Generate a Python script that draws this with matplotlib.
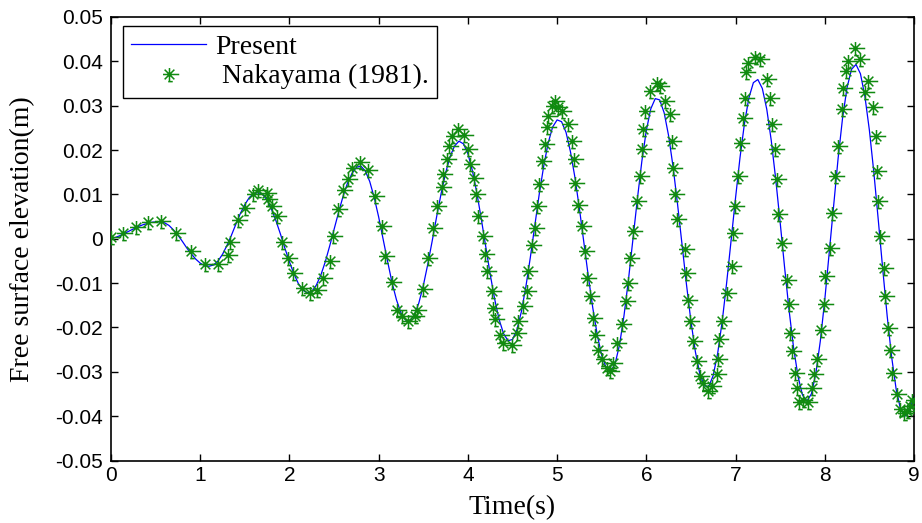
import matplotlib
matplotlib.use("Agg")
import matplotlib.pyplot as plt
from matplotlib.path import Path

# ---- data ----
# numerical solution (blue line), sampled every 0.05 s
line_t = [
    0.00, 0.05, 0.10, 0.15, 0.20, 0.25, 0.30, 0.35, 0.40, 0.45,
    0.50, 0.55, 0.60, 0.65, 0.70, 0.75, 0.80, 0.85, 0.90, 0.95,
    1.00, 1.05, 1.10, 1.15, 1.20, 1.25, 1.30, 1.35, 1.40, 1.45,
    1.50, 1.55, 1.60, 1.65, 1.70, 1.75, 1.80, 1.85, 1.90, 1.95,
    2.00, 2.05, 2.10, 2.15, 2.20, 2.25, 2.30, 2.35, 2.40, 2.45,
    2.50, 2.55, 2.60, 2.65, 2.70, 2.75, 2.80, 2.85, 2.90, 2.95,
    3.00, 3.05, 3.10, 3.15, 3.20, 3.25, 3.30, 3.35, 3.40, 3.45,
    3.50, 3.55, 3.60, 3.65, 3.70, 3.75, 3.80, 3.85, 3.90, 3.95,
    4.00, 4.05, 4.10, 4.15, 4.20, 4.25, 4.30, 4.35, 4.40, 4.45,
    4.50, 4.55, 4.60, 4.65, 4.70, 4.75, 4.80, 4.85, 4.90, 4.95,
    5.00, 5.05, 5.10, 5.15, 5.20, 5.25, 5.30, 5.35, 5.40, 5.45,
    5.50, 5.55, 5.60, 5.65, 5.70, 5.75, 5.80, 5.85, 5.90, 5.95,
    6.00, 6.05, 6.10, 6.15, 6.20, 6.25, 6.30, 6.35, 6.40, 6.45,
    6.50, 6.55, 6.60, 6.65, 6.70, 6.75, 6.80, 6.85, 6.90, 6.95,
    7.00, 7.05, 7.10, 7.15, 7.20, 7.25, 7.30, 7.35, 7.40, 7.45,
    7.50, 7.55, 7.60, 7.65, 7.70, 7.75, 7.80, 7.85, 7.90, 7.95,
    8.00, 8.05, 8.10, 8.15, 8.20, 8.25, 8.30, 8.35, 8.40, 8.45,
    8.50, 8.55, 8.60, 8.65, 8.70, 8.75, 8.80, 8.85, 8.90, 8.95,
    9.00,
]
line_y = [
    0.0000, 0.0003, 0.0007, 0.0012, 0.0017, 0.0022, 0.0027, 0.0031, 0.0034, 0.0037,
    0.0038, 0.0038, 0.0036, 0.0030, 0.0020, 0.0008, -0.0006, -0.0021, -0.0034, -0.0046,
    -0.0055, -0.0061, -0.0062, -0.0059, -0.0050, -0.0035, -0.0015, 0.0008, 0.0033, 0.0057,
    0.0077, 0.0093, 0.0102, 0.0104, 0.0100, 0.0087, 0.0066, 0.0040, 0.0010, -0.0022,
    -0.0052, -0.0079, -0.0101, -0.0116, -0.0122, -0.0119, -0.0105, -0.0083, -0.0053, -0.0017,
    0.0021, 0.0059, 0.0095, 0.0125, 0.0147, 0.0161, 0.0164, 0.0153, 0.0129, 0.0093,
    0.0049, -0.0001, -0.0051, -0.0099, -0.0138, -0.0167, -0.0183, -0.0185, -0.0172, -0.0145,
    -0.0106, -0.0058, -0.0005, 0.0050, 0.0102, 0.0148, 0.0185, 0.0209, 0.0220, 0.0214,
    0.0192, 0.0154, 0.0104, 0.0045, -0.0018, -0.0080, -0.0136, -0.0182, -0.0214, -0.0230,
    -0.0227, -0.0205, -0.0164, -0.0108, -0.0042, 0.0030, 0.0101, 0.0164, 0.0216, 0.0252,
    0.0268, 0.0264, 0.0240, 0.0196, 0.0138, 0.0068, -0.0008, -0.0085, -0.0156, -0.0217,
    -0.0263, -0.0291, -0.0299, -0.0282, -0.0239, -0.0173, -0.0092, -0.0001, 0.0090, 0.0175,
    0.0244, 0.0293, 0.0316, 0.0313, 0.0284, 0.0232, 0.0162, 0.0078, -0.0012, -0.0103,
    -0.0186, -0.0255, -0.0305, -0.0332, -0.0333, -0.0308, -0.0258, -0.0187, -0.0100, -0.0004,
    0.0092, 0.0183, 0.0260, 0.0318, 0.0352, 0.0359, 0.0339, 0.0292, 0.0222, 0.0135,
    0.0037, -0.0065, -0.0161, -0.0245, -0.0310, -0.0352, -0.0366, -0.0350, -0.0304, -0.0231,
    -0.0138, -0.0031, 0.0078, 0.0182, 0.0273, 0.0341, 0.0382, 0.0393, 0.0372, 0.0321,
    0.0245, 0.0150, 0.0042, -0.0069, -0.0175, -0.0267, -0.0339, -0.0385, -0.0400, -0.0388,
    -0.0355,
]

# Nakayama (1981) points (green stars)
naka_t = [
    0.00, 0.138, 0.28, 0.418, 0.56, 0.729, 0.897, 1.054, 1.203, 1.308,
    1.334, 1.428, 1.502, 1.595, 1.651, 1.745, 1.764, 1.80, 1.857, 1.92,
    1.988, 2.044, 2.138, 2.231, 2.306, 2.381, 2.455, 2.492, 2.548, 2.604,
    2.66, 2.698, 2.791, 2.885, 2.96, 3.035, 3.072, 3.147, 3.203, 3.259,
    3.333, 3.408, 3.427, 3.50, 3.557, 3.613, 3.651, 3.707, 3.726, 3.77,
    3.79, 3.82, 3.893, 3.96, 4.006, 4.025, 4.07, 4.09, 4.11, 4.17,
    4.193, 4.212, 4.268, 4.286, 4.305, 4.361, 4.398, 4.492, 4.548, 4.567,
    4.623, 4.66, 4.679, 4.716, 4.754, 4.78, 4.80, 4.83, 4.866, 4.885,
    4.903, 4.94, 4.978, 5.015, 5.052, 5.127, 5.165, 5.184, 5.202, 5.239,
    5.28, 5.31, 5.333, 5.37, 5.40, 5.43, 5.455, 5.501, 5.557, 5.594,
    5.632, 5.669, 5.725, 5.77, 5.80, 5.819, 5.856, 5.893, 5.93, 5.949,
    5.968, 5.987, 6.043, 6.118, 6.155, 6.211, 6.267, 6.286, 6.30, 6.323,
    6.342, 6.435, 6.45, 6.472, 6.491, 6.528, 6.566, 6.603, 6.64, 6.696,
    6.734, 6.79, 6.80, 6.82, 6.846, 6.903, 6.958, 6.977, 6.996, 7.032,
    7.05, 7.089, 7.107, 7.12, 7.145, 7.22, 7.276, 7.351, 7.388, 7.407,
    7.444, 7.463, 7.481, 7.519, 7.575, 7.594, 7.613, 7.631, 7.668, 7.687,
    7.706, 7.76, 7.817, 7.855, 7.874, 7.911, 7.96, 7.99, 8.004, 8.06,
    8.08, 8.117, 8.154, 8.191, 8.21, 8.24, 8.26, 8.341, 8.397, 8.453,
    8.49, 8.546, 8.57, 8.585, 8.60, 8.621, 8.66, 8.68, 8.71, 8.733,
    8.752, 8.808, 8.845, 8.883, 8.92, 8.957, 8.976,
]
naka_y = [
    0.0005, 0.0013, 0.0027, 0.0038, 0.0040, 0.0012, -0.0028, -0.0056, -0.0056, -0.0036,
    -0.0008, 0.0043, 0.0070, 0.0100, 0.0109, 0.0104, 0.0089, 0.0074, 0.0051, -0.0008,
    -0.0043, -0.0078, -0.0111, -0.0123, -0.0116, -0.0088, -0.0051, 0.0006, 0.0066, 0.0111,
    0.0135, 0.0160, 0.0173, 0.0156, 0.0096, 0.0028, -0.0039, -0.0097, -0.0161, -0.0175,
    -0.0186, -0.0175, -0.0160, -0.0114, -0.0043, 0.0025, 0.0074, 0.0117, 0.0145, 0.0179,
    0.0209, 0.0232, 0.0248, 0.0235, 0.0202, 0.0168, 0.0137, 0.0100, 0.0051, 0.0006,
    -0.0035, -0.0073, -0.0118, -0.0156, -0.0182, -0.0216, -0.0235, -0.0239, -0.0212, -0.0186,
    -0.0152, -0.0118, -0.0073, -0.0013, 0.0025, 0.0074, 0.0123, 0.0175, 0.0213, 0.0251,
    0.0277, 0.0299, 0.0311, 0.0296, 0.0288, 0.0258, 0.0220, 0.0179, 0.0126, 0.0077,
    0.0028, -0.0028, -0.0088, -0.0130, -0.0178, -0.0216, -0.0250, -0.0272, -0.0291, -0.0299,
    -0.0280, -0.0235, -0.0193, -0.0141, -0.0099, -0.0043, 0.0017, 0.0085, 0.0141, 0.0202,
    0.0247, 0.0288, 0.0333, 0.0352, 0.0344, 0.0311, 0.0281, 0.0220, 0.0160, 0.0100,
    0.0044, -0.0024, -0.0077, -0.0137, -0.0186, -0.0231, -0.0276, -0.0310, -0.0325, -0.0344,
    -0.0333, -0.0306, -0.0272, -0.0227, -0.0186, -0.0122, -0.0062, 0.0014, 0.0074, 0.0141,
    0.0217, 0.0273, 0.0318, 0.0375, 0.0397, 0.0409, 0.0405, 0.0360, 0.0318, 0.0258,
    0.0202, 0.0134, 0.0055, -0.0009, -0.0092, -0.0148, -0.0212, -0.0254, -0.0302, -0.0336,
    -0.0367, -0.0363, -0.0367, -0.0336, -0.0306, -0.0272, -0.0205, -0.0148, -0.0084, -0.0020,
    0.0059, 0.0141, 0.0209, 0.0292, 0.0341, 0.0378, 0.0401, 0.0431, 0.0405, 0.0330,
    0.0356, 0.0296, 0.0232, 0.0153, 0.0085, 0.0006, -0.0065, -0.0130, -0.0201, -0.0250,
    -0.0302, -0.0351, -0.0385, -0.0393, -0.0388, -0.0378, -0.0363,
]

x_ticks = [0, 1, 2, 3, 4, 5, 6, 7, 8, 9]
y_ticks = [-0.05, -0.04, -0.03, -0.02, -0.01, 0, 0.01, 0.02, 0.03, 0.04, 0.05]
y_tick_labels = ["-0.05", "-0.04", "-0.03", "-0.02", "-0.01", "0",
                 "0.01", "0.02", "0.03", "0.04", "0.05"]

# asterisk-like marker, close to the MATLAB '*' look in the picture
star_verts = [(0, -1), (0, 1),
              (-0.75, -0.75), (0.75, 0.75),
              (-0.75, 0.75), (0.75, -0.75),
              (-1, 0), (1.5, 0),
              (-0.2, -1.1), (0.5, -1.1)]
star_codes = [Path.MOVETO, Path.LINETO] * 5
star = Path(star_verts, star_codes)

serif = "Liberation Serif"
sans = "Liberation Sans"

fig = plt.figure(figsize=(9.22, 5.23), dpi=100)
ax = fig.add_axes([0.1204, 0.1195, 0.8709, 0.848])

ax.plot(line_t, line_y, color="#0000ff", lw=0.9, label="Present", zorder=2)
ax.plot(naka_t, naka_y, ls="none", marker=star, ms=14, mew=1.1,
        color="#108a10", mec="#108a10", label=" Nakayama (1981).", zorder=3)

ax.set_xlim(0, 9)
ax.set_ylim(-0.05, 0.05)
ax.set_xticks(x_ticks)
ax.set_xticklabels([str(v) for v in x_ticks])
ax.set_yticks(y_ticks)
ax.set_yticklabels(y_tick_labels)

ax.tick_params(direction="in", top=True, right=True, length=5, width=1,
               labelsize=15)
ax.tick_params(axis="y", pad=6)
ax.tick_params(axis="x", pad=4)
for lab in ax.get_xticklabels() + ax.get_yticklabels():
    lab.set_fontfamily(sans)
for sp in ax.spines.values():
    sp.set_linewidth(1.2)

ax.set_xlabel("Time(s)", fontfamily=serif, fontsize=20, labelpad=7)
ax.set_ylabel("Free surface elevation(m)", fontfamily=serif, fontsize=20,
              labelpad=14)

leg = ax.legend(loc="upper left", bbox_to_anchor=(0.015, 0.98),
                borderaxespad=0, fancybox=False, framealpha=1,
                edgecolor="black", handlelength=2.7, handletextpad=0.3,
                borderpad=0.3, labelspacing=0.15,
                prop={"family": serif, "size": 20})
leg.get_frame().set_linewidth(1.0)

fig.savefig("out.png", dpi=100)
